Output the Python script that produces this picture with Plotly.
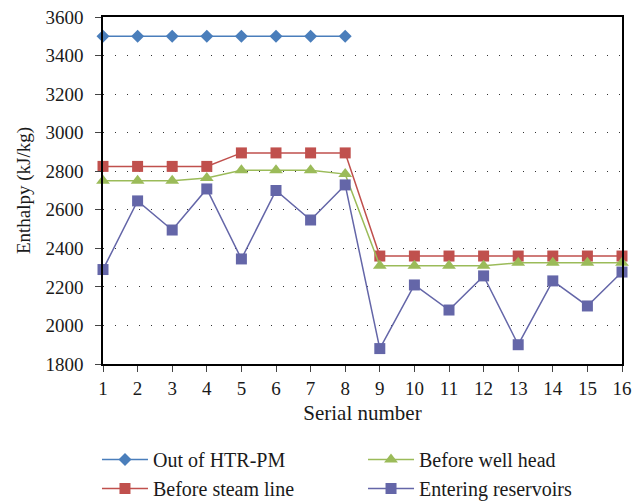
import plotly.graph_objects as go

serial = list(range(1, 17))
out_htr = [3500, 3500, 3500, 3500, 3500, 3500, 3500, 3500]
steam_line = [2825, 2825, 2825, 2825, 2895, 2895, 2895, 2895,
              2360, 2360, 2360, 2360, 2360, 2360, 2360, 2360]
well_head = [2750, 2750, 2750, 2765, 2805, 2805, 2805, 2785,
             2310, 2310, 2310, 2310, 2325, 2325, 2325, 2325]
reservoirs = [2290, 2646, 2495, 2708, 2345, 2700, 2547, 2729,
              1880, 2210, 2080, 2257, 1900, 2231, 2101, 2277]

font = "Liberation Serif, Times New Roman, serif"

fig = go.Figure()
fig.add_trace(go.Scatter(x=serial[:8], y=out_htr, name="Out of HTR-PM", mode="lines+markers",
                         line=dict(color="#4a7ebb", width=1.5), legend="legend",
                         marker=dict(symbol="diamond", size=10, color="#4a7ebb"), cliponaxis=False))
fig.add_trace(go.Scatter(x=serial, y=steam_line, name="Before steam line", mode="lines+markers",
                         line=dict(color="#c0504d", width=1.5), legend="legend",
                         marker=dict(symbol="square", size=11, color="#c0504d"), cliponaxis=False))
fig.add_trace(go.Scatter(x=serial, y=well_head, name="Before well head", mode="lines+markers",
                         line=dict(color="#9bbb59", width=1.5), legend="legend2",
                         marker=dict(symbol="triangle-up", size=12, color="#9bbb59"), cliponaxis=False))
fig.add_trace(go.Scatter(x=serial, y=reservoirs, name="Entering reservoirs", mode="lines+markers",
                         line=dict(color="#6466a8", width=1.5), legend="legend2",
                         marker=dict(symbol="square", size=11, color="#6466a8"), cliponaxis=False))

leg_common = dict(orientation="v", xanchor="left", yref="container", y=0.1255, yanchor="top",
                  traceorder="normal", font=dict(family=font, size=20), tracegroupgap=0,
                  itemwidth=46, bgcolor="rgba(0,0,0,0)")

fig.update_layout(
    width=636, height=494,
    margin=dict(l=95, r=22, t=9, b=138, autoexpand=False),
    paper_bgcolor="white", plot_bgcolor="white",
    font=dict(family=font, size=18, color="#1a1a1a"),
    showlegend=True,
    legend=dict(x=-0.0116, **leg_common),
    legend2=dict(x=0.501, **leg_common),
    xaxis=dict(range=[1, 16], tickvals=serial, ticks="outside", ticklen=6,
               showline=True, linecolor="black", linewidth=1.5, mirror=True,
               showgrid=False, zeroline=False, ticklabeloverflow="allow",
               title=dict(text="Serial number", font=dict(size=21), standoff=8),
               tickfont=dict(size=19)),
    yaxis=dict(range=[1800, 3600], dtick=200, ticks="outside", ticklen=6,
               showline=True, linecolor="black", linewidth=1.5, mirror=True,
               showgrid=True, gridcolor="#333333", gridwidth=1, griddash="1px,11px",
               zeroline=False, ticklabelstandoff=8, ticklabeloverflow="allow",
               title=dict(text="Enthalpy (kJ/kg)", font=dict(size=19), standoff=10),
               tickfont=dict(size=19)),
)

fig.write_html("out.html")
